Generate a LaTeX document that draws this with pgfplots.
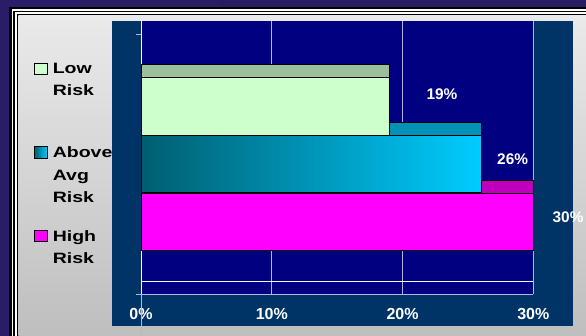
\documentclass[border=0pt]{standalone}
\usepackage{pgfplots}
\pgfplotsset{compat=1.18}
\usepackage{fontspec}
\setmainfont{Liberation Sans}
\newfontfamily\legfont[FakeStretch=1.3]{Liberation Sans}
\definecolor{navyc}{HTML}{000080}
\definecolor{darkbl}{HTML}{003366}
\definecolor{lowf}{HTML}{CCFFCC}
\definecolor{lows}{HTML}{9BBF9B}
\definecolor{avgl}{HTML}{005E70}
\definecolor{avgr}{HTML}{00CCFF}
\definecolor{avgs}{HTML}{0092B6}
\definecolor{highf}{HTML}{FF00FF}
\definecolor{highs}{HTML}{BE00BE}
\definecolor{gridc}{HTML}{B4B4E6}
\definecolor{bgl}{HTML}{2A1C66}
\definecolor{bgm}{HTML}{4656A0}
\definecolor{bgr}{HTML}{2A1C62}
\definecolor{panelt}{HTML}{EAEAEA}
\definecolor{panelb}{HTML}{BDBDBD}
\newcommand{\legtxt}[1]{\begin{minipage}[t][82.85pt][t]{62pt}\raggedright\legfont\bfseries\fontsize{15}{22.3}\selectfont #1\end{minipage}}
\begin{document}
\begin{tikzpicture}
\useasboundingbox (0,0) rectangle (586pt,335pt);
\shade[left color=bgl, middle color=bgm, right color=bgr] (0,0) rectangle (586pt,335pt);
\fill[black] (9.3pt,327.7pt) rectangle (600pt,-10pt);
\fill[white] (11.7pt,325.7pt) rectangle (600pt,-10pt);
\fill[black] (13.3pt,324pt) rectangle (600pt,-10pt);
\fill[white] (14.7pt,322.7pt) rectangle (600pt,-10pt);
\fill[black] (16.7pt,320.7pt) rectangle (600pt,-10pt);
\shade[top color=panelt, bottom color=panelb] (18.3pt,319pt) rectangle (600pt,-10pt);
\fill[darkbl] (112pt,9.3pt) rectangle (573pt,314.3pt);
\begin{axis}[
  at={(141pt,41pt)}, anchor=south west,
  scale only axis, width=392.3pt, height=273.3pt,
  xmin=0, xmax=30, ymin=41, ymax=314.3,
  enlargelimits=false, clip=false,
  axis background/.style={fill=navyc},
  axis x line*=bottom, axis y line*=left,
  axis line style={-},
  x axis line style={color=gridc, line width=0.9pt, shorten <=-5pt},
  y axis line style={white, line width=0.9pt},
  xtick={0,10,20,30}, xticklabels={0\%,10\%,20\%,30\%},
  xtick style={draw=none},
  ytick={301}, yticklabels={},
  ytick style={color=gridc, line width=0.8pt},
  tick align=outside, major tick length=5pt,
  xmajorgrids=true, ymajorgrids=false,
  major grid style={gridc, line width=0.9pt},
  xticklabel style={font=\bfseries\fontsize{16}{16}\selectfont, text=white, anchor=base, yshift=-20pt},
  legend style={at={(axis description cs:-0.2727,0.8474)}, anchor=north west,
    draw=none, fill=none, inner sep=0pt, row sep=0pt, column sep=5.3pt,
    cells={anchor=north west}, nodes={inner sep=0pt, text depth=}},
  reverse legend,
  legend image code/.code={\path[#1, draw=black, line width=0.6pt] (0pt,-11.4pt) rectangle (12.7pt,0.2pt);},
]
\draw[white, line width=0.9pt] (axis cs:0,54) -- (axis cs:30,54);
\draw[gridc, line width=0.8pt] (axis cs:0,41) -- ++(0,-4pt);
% High Risk
\addplot[xbar, bar shift=0pt, bar width=13, fill=highs, draw=black, line width=0.8pt, forget plot] coordinates {(30,148.5)};
\addplot[xbar, bar shift=0pt, bar width=57.7, fill=highf, draw=black, line width=0.8pt] coordinates {(30,113.15)};
\addlegendentry{\legtxt{High\newline Risk}}
% Above Avg Risk
\addplot[xbar, bar shift=0pt, bar width=13, fill=avgs, draw=black, line width=0.8pt, forget plot] coordinates {(26,206.5)};
\addplot[xbar, bar shift=0pt, bar width=57.7, left color=avgl, right color=avgr, draw=black, line width=0.8pt] coordinates {(26,171)};
\addlegendentry{\legtxt{Above\newline Avg\newline Risk}}
% Low Risk
\addplot[xbar, bar shift=0pt, bar width=13.5, fill=lows, draw=black, line width=0.8pt, forget plot] coordinates {(19,264.15)};
\addplot[xbar, bar shift=0pt, bar width=57.7, fill=lowf, draw=black, line width=0.8pt] coordinates {(19,228.65)};
\addlegendentry{\legtxt{Low\newline Risk}}
\node[anchor=base, text=white, font=\bfseries\fontsize{15.4}{15.4}\selectfont] at (axis cs:23.02,235.7) {19\%};
\node[anchor=base, text=white, font=\bfseries\fontsize{15.4}{15.4}\selectfont] at (axis cs:28.42,170.7) {26\%};
\node[anchor=base, text=white, font=\bfseries\fontsize{15.4}{15.4}\selectfont] at (axis cs:32.66,112.3) {30\%};
\end{axis}
\end{tikzpicture}
\end{document}
